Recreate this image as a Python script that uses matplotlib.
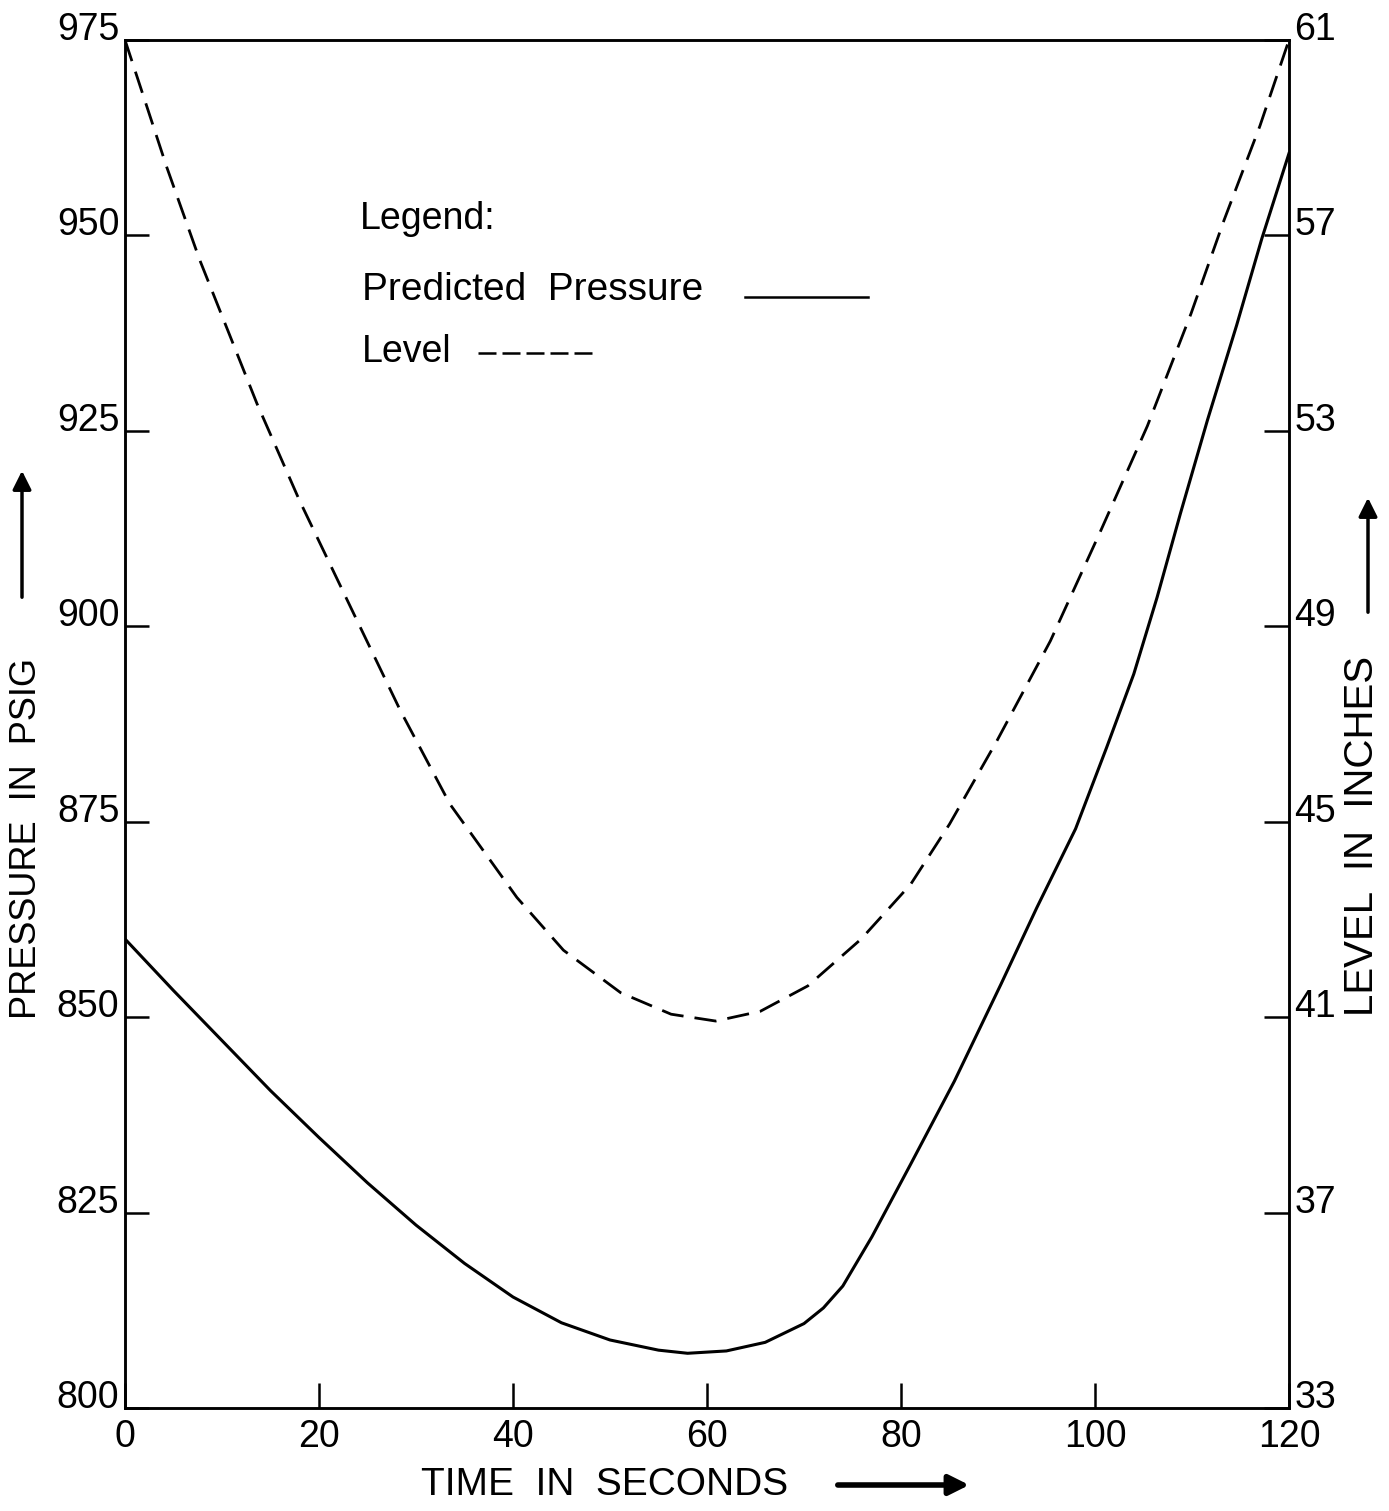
import numpy as np
import matplotlib.pyplot as plt

plt.rcParams['font.family'] = ['Liberation Sans', 'DejaVu Sans']

# donnees
temps_pression = [0, 5, 10, 15, 20, 25, 30, 35, 40, 45, 50, 55, 58, 62, 66, 70, 72, 74,
                  77, 81, 85.5, 90.3, 94, 98, 101.2, 104, 106.4, 108.8, 111.6, 114.6,
                  117.2, 120]
pression = [860, 853.4, 847, 840.6, 834.6, 828.8, 823.4, 818.5, 814.2, 810.9, 808.7,
            807.4, 807.0, 807.3, 808.4, 810.8, 812.8, 815.6, 821.9, 831.2, 841.8,
            854.2, 864, 874.1, 884.5, 893.9, 903.7, 914.4, 926.4, 938.5, 949.6, 960.5]

temps_niveau = [0, 4.3, 7.7, 13.6, 18, 23.6, 28.4, 33.5, 40.4, 45.2, 51.1, 56.3, 60.9,
                65.5, 70.4, 75.9, 81, 85, 89.9, 95.4, 100.6, 105.4, 109.9, 113.3, 117, 120]
niveau = [61, 58.4, 56.5, 53.56, 51.57, 49.25, 47.27, 45.36, 43.45, 42.37, 41.5, 41.06,
          40.92, 41.12, 41.64, 42.6, 43.72, 44.95, 46.66, 48.7, 50.96, 53.1, 55.4,
          57.31, 59.24, 61]

ticks_temps = [0, 20, 40, 60, 80, 100, 120]
ticks_pression = [800, 825, 850, 875, 900, 925, 950, 975]
ticks_niveau = [33, 37, 41, 45, 49, 53, 57, 61]

W, H = 1389, 1511
fig = plt.figure(figsize=(W / 100, H / 100), dpi=100)
ax = fig.add_axes([125 / W, 1 - 1408 / H, 1164 / W, 1368 / H])
ax2 = ax.twinx()

# courbes
ax.plot(temps_pression, pression, color='black', lw=2.2, solid_joinstyle='round')
ax2.plot(temps_niveau, niveau, color='black', lw=2.0, dashes=(8, 4))

ax.set_xlim(0, 120)
ax.set_ylim(800, 975)
ax2.set_ylim(33, 61)

for a in (ax, ax2):
    for s in a.spines.values():
        s.set_linewidth(1.8)

ax.set_xticks(ticks_temps)
ax.set_xticklabels([str(t) for t in ticks_temps])
ax.set_yticks(ticks_pression)
ax.set_yticklabels([str(p) for p in ticks_pression])
ax2.set_yticks(ticks_niveau)
ax2.set_yticklabels([str(n) for n in ticks_niveau])

ax.tick_params(axis='both', direction='in', length=17, width=1.8, labelsize=27, pad=4)
ax.tick_params(axis='x', length=18, pad=8)
ax2.tick_params(axis='y', direction='in', length=18, width=1.8, labelsize=27, pad=4)

for lab in ax.get_yticklabels():
    lab.set_verticalalignment('baseline')
for lab in ax2.get_yticklabels():
    lab.set_verticalalignment('baseline')

# legende dessinee a la main
ax.text(0.202, 0.862, 'Legend:', transform=ax.transAxes, fontsize=27)
ax.text(0.2036, 0.81, 'Predicted  Pressure', transform=ax.transAxes, fontsize=28)
ax.text(0.2036, 0.7646, 'Level', transform=ax.transAxes, fontsize=27)
ax.plot([0.5326, 0.6383], [0.812, 0.812], transform=ax.transAxes, color='black', lw=1.8)
ax.plot([0.3033, 0.4064], [0.7712, 0.7712], transform=ax.transAxes, color='black',
        lw=1.8, dashes=(7.2, 2.4))

# titres des axes
fig.text(27 / W, 1 - 838 / H, 'PRESSURE  IN  PSIG', rotation=90, ha='center',
         va='center', fontsize=26)
fig.text(1362 / W, 1 - 836 / H, 'LEVEL  IN  INCHES', rotation=90, ha='center',
         va='center', fontsize=29)
fig.text(605 / W, 1 - 1485 / H, 'TIME  IN  SECONDS', ha='center', va='center',
         fontsize=28)

# fleches
fleche = dict(arrowstyle='-|>', color='black', lw=2.5, mutation_scale=28)
ax.annotate('', xy=(22 / W, 1 - 468 / H), xytext=(22 / W, 1 - 600 / H),
            xycoords='figure fraction', textcoords='figure fraction',
            arrowprops=fleche)
ax.annotate('', xy=(1368 / W, 1 - 495 / H), xytext=(1368 / W, 1 - 615 / H),
            xycoords='figure fraction', textcoords='figure fraction',
            arrowprops=fleche)
ax.annotate('', xy=(972 / W, 1 - 1485 / H), xytext=(835 / W, 1 - 1485 / H),
            xycoords='figure fraction', textcoords='figure fraction',
            arrowprops=dict(arrowstyle='-|>', color='black', lw=4, mutation_scale=30))

plt.savefig('out.png', dpi=100)
